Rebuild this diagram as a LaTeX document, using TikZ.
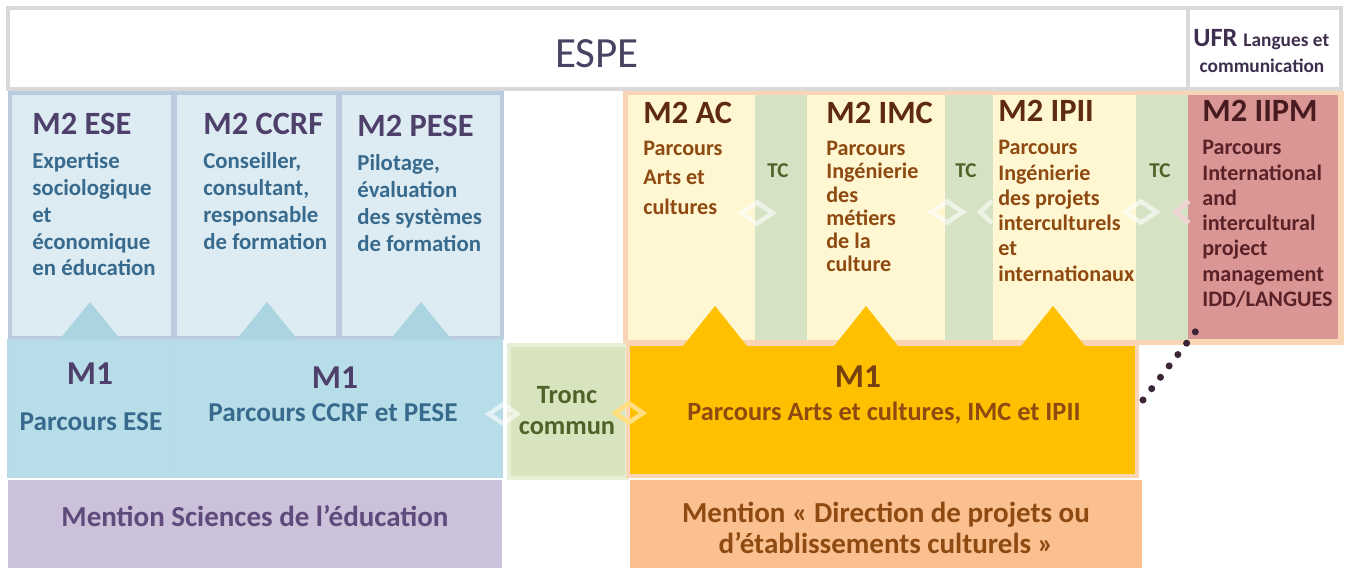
\documentclass[tikz,border=0pt]{standalone}
\usepackage{fontspec}
\setmainfont{Carlito}
\usetikzlibrary{
    calc,
    fit,
    positioning,
    shapes.geometric
}
\definecolor{bandline}{HTML}{D9D9D9}
\definecolor{espetxt}{HTML}{4A4262}
\definecolor{ufrtxt}{HTML}{3F2F4F}
\definecolor{bluetop}{HTML}{DDECF3}
\definecolor{blueline}{HTML}{BCCBDF}
\definecolor{bluemid}{HTML}{B7DDE8}
\definecolor{bluetri}{HTML}{A9D4E0}
\definecolor{bluetxt}{HTML}{386A8E}
\definecolor{purptxt}{HTML}{4E3F6B}
\definecolor{lavender}{HTML}{CCC1DA}
\definecolor{lavtxt}{HTML}{5F4A7B}
\definecolor{tcgreen}{HTML}{D5E3C4}
\definecolor{troncfill}{HTML}{D7E4BD}
\definecolor{greentxt}{HTML}{4F6228}
\definecolor{yellowtop}{HTML}{FEF7D2}
\definecolor{peach}{HTML}{F9D5B5}
\definecolor{amber}{HTML}{FFC000}
\definecolor{apricot}{HTML}{FAC090}
\definecolor{rose}{HTML}{D99694}
\definecolor{browntxt}{HTML}{8E4A10}
\definecolor{darkbrown}{HTML}{5E2A10}
\definecolor{rosetxt}{HTML}{5A2228}
\definecolor{dotcol}{HTML}{3B2436}
\tikzset{
    blk/.style = {
        inner sep = 0pt,
        outer sep = 0pt,
        line width = 2pt
    },
    head/.style = {
        anchor = base west,
        inner sep = 0pt,
        font = \bfseries\fontsize{18.5pt}{21pt}\selectfont
    },
    body/.style = {
        anchor = north west,
        inner sep = 0pt,
        align = left,
        font = \bfseries\fontsize{13pt}{#1}\selectfont
    },
    body/.default = 15.3pt,
    obody/.style = {
        anchor = north west,
        inner sep = 0pt,
        align = left,
        font = \bfseries\fontsize{12.6pt}{#1}\selectfont
    },
    mhead/.style = {
        inner sep = 0pt,
        font = \bfseries\fontsize{19pt}{21pt}\selectfont
    },
    mtext/.style = {
        inner sep = 0pt,
        align = center,
        font = \bfseries\fontsize{15.5pt}{17.6pt}\selectfont
    },
    swapmark/.style = {
        diamond,
        inner sep = 0pt,
        minimum width = 0.66cm,
        minimum height = 0.46cm,
        line width = 2.6pt,
        draw opacity = 0.6
    },
    dotline/.style = {
        draw = dotcol,
        line width = 4pt,
        line cap = round,
        dash pattern = on 0pt off 8.15pt
    }
}

\begin{document}
\begin{tikzpicture}[x = 0.02cm, y = -0.02cm]
    \useasboundingbox (0, 0) rectangle (1347, 571);
    % top band
    \node[blk, draw = bandline, fill = white, fit = {(8, 8) (1188, 89)}] (espe) {};
    \node[blk, draw = bandline, fill = white, fit = {(1188, 8) (1341, 89)}] (ufr) {};
    \node[inner sep = 0pt, text = espetxt, font = \fontsize{24.5pt}{28pt}\selectfont] (espet) at (597, 54) {ESPE};
    \node[inner sep = 0pt, text = ufrtxt, anchor = base west] (ufrt) at (1193, 47) {\bfseries\fontsize{15pt}{17pt}\selectfont UFR \fontsize{11pt}{13pt}\selectfont Langues et};
    \node[inner sep = 0pt, text = ufrtxt, anchor = base, font = \bfseries\fontsize{11pt}{13pt}\selectfont] (ufrc) at (1262, 73) {communication};

    % M2, sciences de l'education
    \node[blk, draw = blueline, fill = bluetop, fit = {(10, 93) (173, 338)}] (ese2) {};
    \node[blk, draw = blueline, fill = bluetop, fit = {(175, 93) (338, 338)}] (ccrf2) {};
    \node[blk, draw = blueline, fill = bluetop, fit = {(340, 93) (502, 338)}] (pese2) {};

    % M2, projets culturels
    \node[blk, draw = peach, fill = peach, line width = 2pt, fit = {(625, 93) (1342, 343)}] (m2ac) {};
    \node[blk, fill = yellowtop, fit = {(628, 95) (755, 340)}] (ac2) {};
    \node[blk, fill = tcgreen, fit = {(755, 95) (807, 340)}] (tc1) {};
    \node[blk, fill = yellowtop, fit = {(807, 95) (945, 340)}] (imc2) {};
    \node[blk, fill = tcgreen, fit = {(945, 95) (993, 340)}] (tc2) {};
    \node[blk, fill = yellowtop, fit = {(993, 95) (1136, 340)}] (ipii2) {};
    \node[blk, fill = tcgreen, fit = {(1136, 95) (1188, 340)}] (tc3) {};
    \node[blk, fill = rose, fit = {(1188, 95) (1338, 339)}] (iipm2) {};

    % M1
    \node[blk, draw = bluemid!80!blueline, fill = bluemid, line width = 1.2pt, fit = {(8, 340) (174, 477)}] (ese1) {};
    \node[blk, draw = bluemid!80!blueline, fill = bluemid, line width = 1.2pt, fit = {(174, 340) (502, 477)}] (ccrf1) {};
    \node[blk, draw = troncfill!60!white, fill = troncfill, fit = {(509, 345) (627, 478)}] (tronc) {};
    \node[blk, draw = peach, fill = amber, line width = 2.5pt, fit = {(628, 344) (1137, 476)}] (m1ac) {};

    % mentions
    \node[blk, fill = lavender, fit = {(8, 480) (502, 568)}] (mse) {};
    \node[blk, fill = apricot, fit = {(630, 480) (1142, 568)}] (mdp) {};

    % triangles M1 -> M2
    \foreach \x in {90, 267, 421}
        \fill[bluetri] (\x - 30, 339) -- (\x, 302) -- (\x + 30, 339) -- cycle;
    \foreach \x in {715, 866, 1053}
        \fill[amber] (\x - 32, 346) -- (\x, 306) -- (\x + 32, 346) -- cycle;

    % double arrows
    \node[swapmark, draw = white] (sw1) at (757, 213) {};
    \node[swapmark, draw = white] (sw2) at (947, 212) {};
    \node[swapmark, draw = white] (sw3) at (1141, 212) {};
    \draw[white, draw opacity = 0.6, line width = 2.6pt] (992, 201) -- (980, 212) -- (992, 223);
    \draw[white!60!rose, line width = 2.6pt] (1189, 201) -- (1176, 212) -- (1189, 223);
    \node[swapmark, draw = white, minimum width = 0.6cm, minimum height = 0.42cm] (sw4) at (503, 414) {};
    \node[swapmark, draw = amber!50!white, draw opacity = 1, minimum width = 0.6cm, minimum height = 0.42cm] (sw5) at (629, 413) {};

    % texts M2
    \node[head, text = purptxt] (ese2h) at (32, 135) {M2 ESE};
    \node[body, text = bluetxt] (ese2b) at (32, 152) {Expertise\\sociologique\\et\\économique\\en éducation};
    \node[head, text = purptxt] (ccrf2h) at (203, 135) {M2 CCRF};
    \node[body, text = bluetxt] (ccrf2b) at (203, 152) {Conseiller,\\consultant,\\responsable\\de formation};
    \node[head, text = purptxt] (pese2h) at (357, 137) {M2 PESE};
    \node[body, text = bluetxt] (pese2b) at (357, 154) {Pilotage,\\évaluation\\des systèmes\\de formation};

    \node[head, text = darkbrown] (ac2h) at (643, 124) {M2 AC};
    \node[obody = 16.6pt, text = browntxt] (ac2b) at (643, 141) {Parcours\\Arts et\\cultures};
    \node[head, text = darkbrown] (imc2h) at (826, 124) {M2 IMC};
    \node[obody = 13.2pt, text = browntxt] (imc2b) at (826, 141) {Parcours\\Ingénierie\\des\\métiers\\de la\\culture};
    \node[head, text = darkbrown] (ipii2h) at (998, 122) {M2 IPII};
    \node[obody = 14.4pt, text = browntxt] (ipii2b) at (998, 140) {Parcours\\Ingénierie\\des projets\\interculturels\\et\\internationaux};
    \node[head, text = rosetxt!80!black] (iipm2h) at (1202, 122) {M2 IIPM};
    \node[obody = 14.4pt, text = rosetxt] (iipm2b) at (1202, 140) {Parcours\\International\\and\\intercultural\\project\\management\\IDD/LANGUES};

    \node[inner sep = 0pt, text = greentxt, font = \bfseries\fontsize{12pt}{14pt}\selectfont] (tc1t) at (778, 171) {TC};
    \node[inner sep = 0pt, text = greentxt, font = \bfseries\fontsize{12pt}{14pt}\selectfont] (tc2t) at (966, 171) {TC};
    \node[inner sep = 0pt, text = greentxt, font = \bfseries\fontsize{12pt}{14pt}\selectfont] (tc3t) at (1160, 171) {TC};

    % texts M1
    \node[mhead, text = purptxt] (ese1h) at (90, 374) {M1};
    \node[mtext, text = bluetxt] (ese1t) at (91, 422) {Parcours ESE};
    \node[mhead, text = purptxt] (ccrf1h) at (335, 378) {M1};
    \node[mtext, text = bluetxt] (ccrf1t) at (333, 413) {Parcours CCRF et PESE};
    \node[mtext, text = greentxt, font = \bfseries\fontsize{15pt}{17.6pt}\selectfont] (tronct) at (567, 411) {Tronc\\commun};
    \node[mhead, text = darkbrown!85!amber] (m1ach) at (858, 377) {M1};
    \node[mtext, text = browntxt, font = \bfseries\fontsize{15pt}{17pt}\selectfont] (m1act) at (884, 413) {Parcours Arts et cultures, IMC et IPII};

    % mentions
    \node[mtext, text = lavtxt, font = \bfseries\fontsize{16.5pt}{18pt}\selectfont] (mset) at (255, 516) {Mention Sciences de l’éducation};
    \node[mtext, text = browntxt, font = \bfseries\fontsize{16.5pt}{18pt}\selectfont] (mdpt) at (886, 528) {Mention « Direction de projets ou\\d’établissements culturels »};

    % lien M1 -> IIPM
    \draw[dotline] ($(m1ac.north east) + (6, 56)$) -- ($(iipm2.south west) + (8, -8)$);
\end{tikzpicture}
\end{document}
